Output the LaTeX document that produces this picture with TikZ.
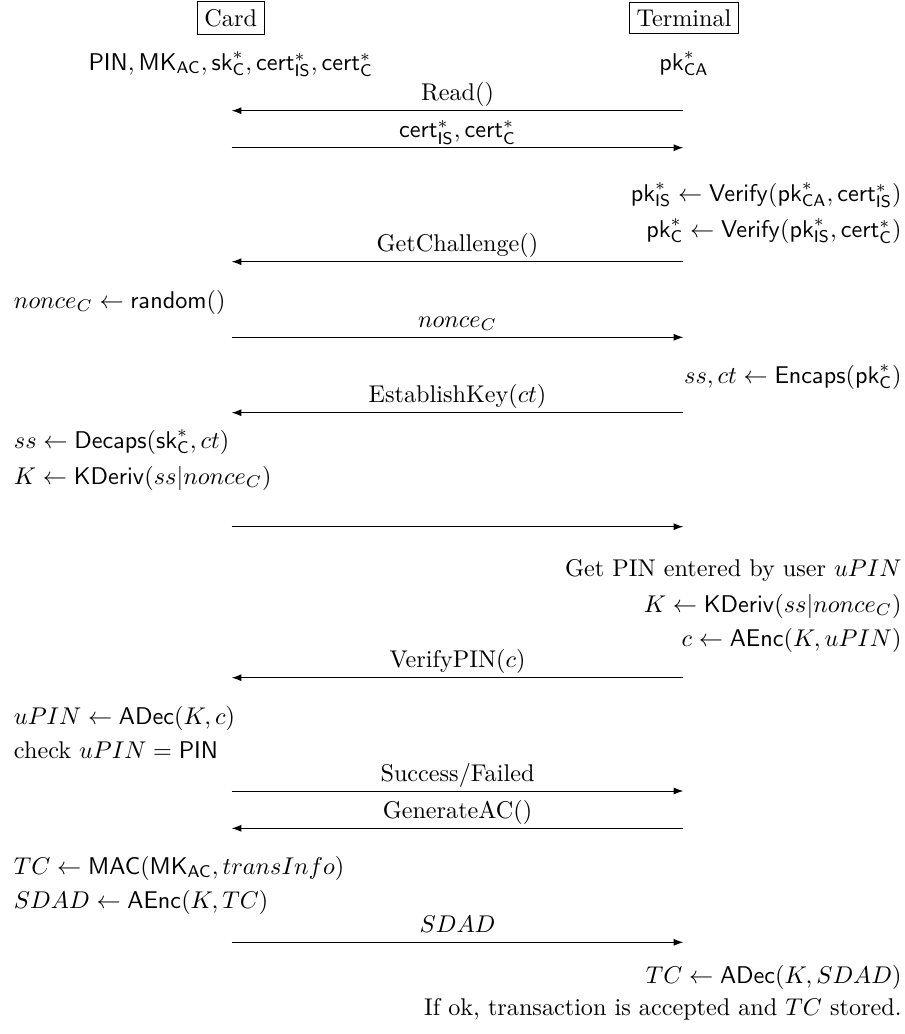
\documentclass[tikz,border=0pt]{standalone}
\usetikzlibrary{arrows.meta}
\newcommand{\sfm}[1]{\mathsf{#1}}
\begin{document}
\begin{tikzpicture}[x=0.41322pt,y=-0.41322pt,
  party/.style={draw,line width=0.4pt,inner sep=3pt},
  msg/.style={-{Latex[length=4pt,width=2.9pt]},line width=0.4pt},
  lab/.style={anchor=base,inner sep=0pt},
  lrow/.style={anchor=base west,inner sep=0pt},
  rrow/.style={anchor=base east,inner sep=0pt}]
\useasboundingbox (0,0) rectangle (905,1034);
% parties
\node[party] (card) at (230.7,18) {Card};
\node[party] (term) at (684,18) {Terminal};
\node[lab] (ckeys) at (230.7,70) {$\sfm{PIN}, \sfm{MK}_{\sfm{AC}}, \sfm{sk}^*_{\sfm{C}}, \sfm{cert}^*_{\sfm{IS}}, \sfm{cert}^*_{\sfm{C}}$};
\node[lab] (tkeys) at (684,70) {$\sfm{pk}^*_{\sfm{CA}}$};
% message end points
\foreach \n/\y in {1/110.7,2/147.7,3/261.7,4/337.3,5/412.7,6/526.7,7/677.7,8/791,9/828.3,10/942.3}{
  \coordinate (c\n) at (231.7,\y);
  \coordinate (t\n) at (683.3,\y);
}
% messages
\draw[msg] (t1) -- (c1);
\node[lab] (m1) at (457.5,100.7) {Read()};
\draw[msg] (c2) -- (t2);
\node[lab] (m2) at (457.5,137.7) {$\sfm{cert}^*_{\sfm{IS}}, \sfm{cert}^*_{\sfm{C}}$};
\node[rrow] (r1) at (902,201) {$\sfm{pk}^*_{\sfm{IS}} \leftarrow \sfm{Verify}(\sfm{pk}^*_{\sfm{CA}}, \sfm{cert}^*_{\sfm{IS}})$};
\node[rrow] (r2) at (902,237) {$\sfm{pk}^*_{\sfm{C}} \leftarrow \sfm{Verify}(\sfm{pk}^*_{\sfm{IS}}, \sfm{cert}^*_{\sfm{C}})$};
\draw[msg] (t3) -- (c3);
\node[lab] (m3) at (457.5,251.7) {GetChallenge()};
\node[lrow] (l1) at (13.5,308) {$nonce_C \leftarrow \sfm{random}()$};
\draw[msg] (c4) -- (t4);
\node[lab] (m4) at (457.5,327.3) {$nonce_C$};
\node[rrow] (r3) at (902,383) {$ss, ct \leftarrow \sfm{Encaps}(\sfm{pk}^*_{\sfm{C}})$};
\draw[msg] (t5) -- (c5);
\node[lab] (m5) at (457.5,402.7) {EstablishKey($ct$)};
\node[lrow] (l2) at (13.5,448) {$ss \leftarrow \sfm{Decaps}(\sfm{sk}^*_{\sfm{C}}, ct)$};
\node[lrow] (l3) at (13.5,484) {$K \leftarrow \sfm{KDeriv}(ss|nonce_C)$};
\draw[msg] (c6) -- (t6);
\node[rrow] (r4) at (902,576) {Get PIN entered by user $uPIN$};
\node[rrow] (r5) at (902,612) {$K \leftarrow \sfm{KDeriv}(ss|nonce_C)$};
\node[rrow] (r6) at (902,646) {$c \leftarrow \sfm{AEnc}(K, uPIN)$};
\draw[msg] (t7) -- (c7);
\node[lab] (m7) at (457.5,667.7) {VerifyPIN($c$)};
\node[lrow] (l4) at (13.5,724) {$uPIN \leftarrow \sfm{ADec}(K, c)$};
\node[lrow] (l5) at (13.5,758) {check $uPIN = \sfm{PIN}$};
\draw[msg] (c8) -- (t8);
\node[lab] (m8) at (457.5,781) {Success/Failed};
\draw[msg] (t9) -- (c9);
\node[lab] (m9) at (457.5,818.3) {GenerateAC()};
\node[lrow] (l6) at (13.5,874) {$TC \leftarrow \sfm{MAC}(\sfm{MK}_{\sfm{AC}}, transInfo)$};
\node[lrow] (l7) at (13.5,908) {$SDAD \leftarrow \sfm{AEnc}(K, TC)$};
\draw[msg] (c10) -- (t10);
\node[lab] (m10) at (457.5,932.3) {$SDAD$};
\node[rrow] (r7) at (902,983) {$TC \leftarrow \sfm{ADec}(K, SDAD)$};
\node[rrow] (r8) at (902,1015) {If ok, transaction is accepted and $TC$ stored.};
\end{tikzpicture}
\end{document}
